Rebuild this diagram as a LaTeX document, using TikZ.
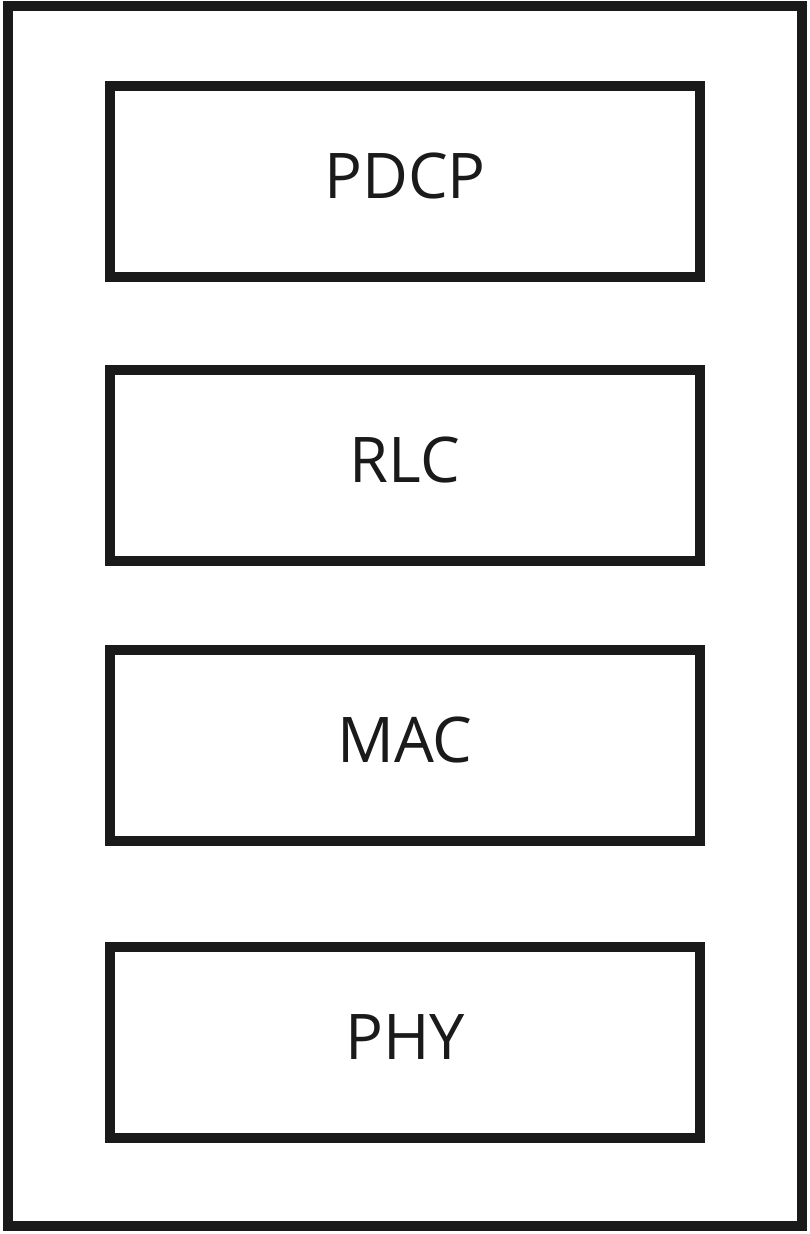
\documentclass[tikz,border=0pt]{standalone}
\usepackage{fontspec}
\setmainfont{Open Sans}
\usepackage{tikz}
\usetikzlibrary{positioning}
\definecolor{ink}{HTML}{1A1A1A}
\tikzstyle{layer} = [draw=ink, rectangle, line width=10pt, outer sep=0pt,
    minimum width=590pt, minimum height=191pt, text=ink,
    font=\fontsize{63}{75}\selectfont, text height=45pt, text depth=12pt]
\tikzstyle{frame} = [draw=ink, rectangle, line width=10pt, outer sep=0pt,
    minimum width=794pt, minimum height=1220pt]

\begin{document}
\begin{tikzpicture}[x=1pt, y=1pt]
		\useasboundingbox (0,0) rectangle (810,-1234);

		\node[frame] (ue) at (405,-616) {};
		\node[layer] (pdcp) at (405,-181.5) {PDCP};
		\node[layer, below=93pt of pdcp] (rlc) {RLC};
		\node[layer, below=89pt of rlc] (mac) {MAC};
		\node[layer, below=106pt of mac] (phy) {PHY};
	\end{tikzpicture}
\end{document}
